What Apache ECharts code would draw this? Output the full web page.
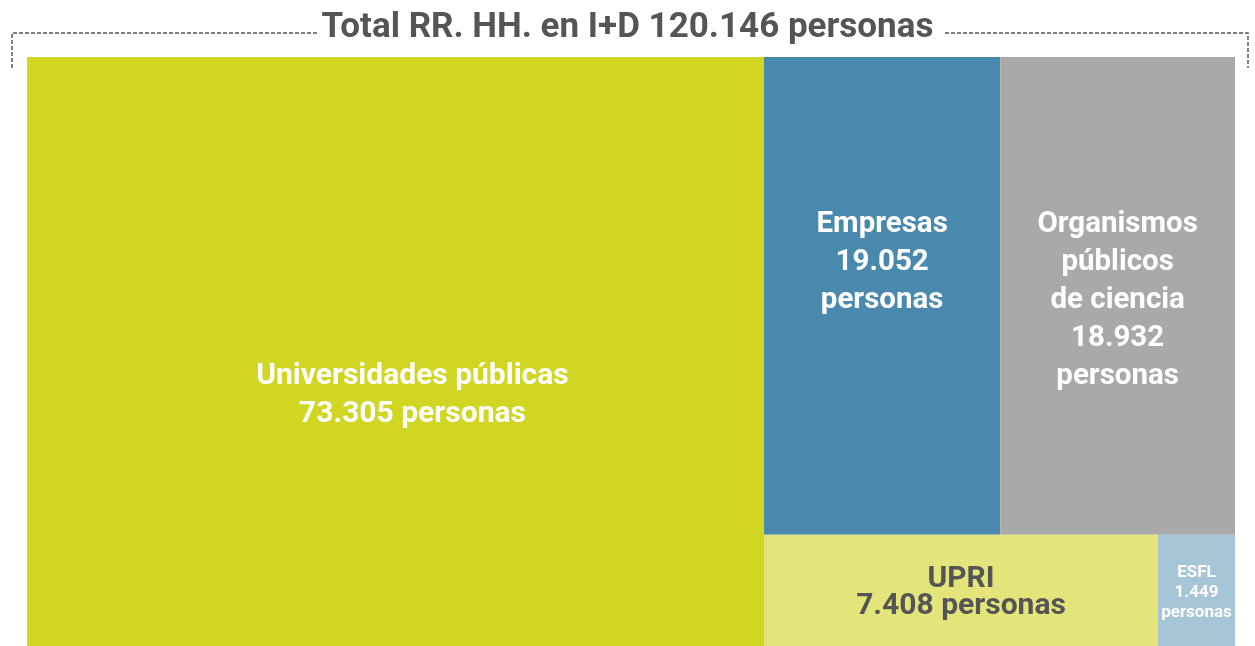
<!DOCTYPE html>
<html>
<head>
<meta charset="utf-8">
<script src="https://cdn.jsdelivr.net/npm/echarts@6/dist/echarts.min.js"></script>
<style>
html,body{margin:0;padding:0;background:#fff;}
#main{width:1255px;height:646px;}
</style>
</head>
<body>
<div id="main"></div>
<script>
var names = ['Universidades públicas', 'Empresas', 'Organismos públicos de ciencia', 'UPRI', 'ESFL'];
var labels = [
    'Universidades públicas\n73.305 personas',
    'Empresas\n19.052\npersonas',
    'Organismos\npúblicos\nde ciencia\n18.932\npersonas',
    'UPRI\n7.408 personas',
    'ESFL\n1.449\npersonas'
];
var values = [73305, 19052, 18932, 7408, 1449];
var colors = ['#d1d622', '#4a89ae', '#a9a9a9', '#e3e57a', '#a6c5d7'];
var titleText = 'Total RR. HH. en I+D 120.146 personas';

var fontFam = 'Roboto, "Noto Sans", sans-serif';
var labelPos = [['52.3%', '57.5%'], ['50%', '43%'], ['50%', '51%'], ['50%', '52%'], ['50%', '52%']];
var labelColor = ['#fff', '#fff', '#fff', '#555555', '#fff'];
var labelSize = [30, 29.5, 29.5, 30, 17];
var labelLine = [38, 38, 38, 27, 20];

var data = [];
for (var i = 0; i < names.length; i++) {
    data.push({
        name: names[i],
        value: values[i],
        itemStyle: { color: colors[i] },
        label: {
            formatter: labels[i],
            position: labelPos[i],
            align: 'center',
            verticalAlign: 'middle',
            color: labelColor[i],
            fontSize: labelSize[i],
            lineHeight: labelLine[i]
        }
    });
}

var dash = { stroke: '#555555', lineWidth: 1.5, lineDash: [4, 2] };

var option = {
    backgroundColor: '#fff',
    animation: false,
    title: {
        text: titleText,
        left: 'center',
        top: 6,
        textStyle: { fontFamily: fontFam, fontSize: 35, fontWeight: 'bold', color: '#555555' }
    },
    graphic: [
        { type: 'polyline', shape: { points: [[12, 68], [12, 33], [318, 33]] }, style: dash, silent: true },
        { type: 'polyline', shape: { points: [[945, 33], [1248, 33], [1248, 68]] }, style: dash, silent: true }
    ],
    series: [{
        type: 'treemap',
        left: 27,
        top: 57,
        right: 20,
        bottom: 0,
        roam: false,
        nodeClick: false,
        breadcrumb: { show: false },
        itemStyle: { borderWidth: 0, gapWidth: 0 },
        label: {
            show: true,
            fontFamily: fontFam,
            fontWeight: 'bold',
            overflow: 'none'
        },
        levels: [{ itemStyle: { borderWidth: 0, gapWidth: 0 } }],
        data: data
    }]
};

var chart = echarts.init(document.getElementById('main'));
chart.setOption(option);
</script>
</body>
</html>
